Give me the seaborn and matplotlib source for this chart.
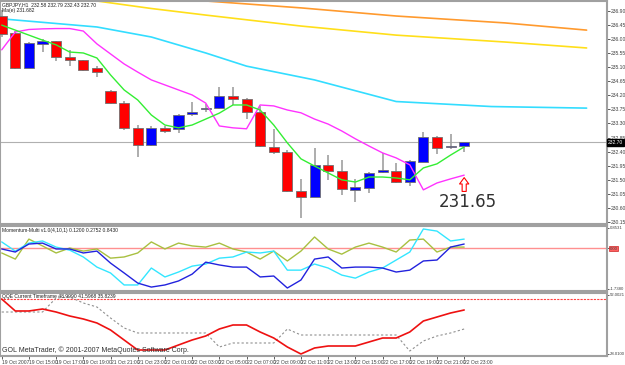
import numpy as np
import pandas as pd
import seaborn as sns
import matplotlib.pyplot as plt

# GBPJPY H1 candles, bar index 0..34
opens  = [236.73, 236.19, 235.07, 235.84, 235.93, 235.42, 235.33, 235.07, 234.34, 233.95,
          233.16, 232.61, 233.16, 233.13, 233.60, 233.76, 233.79, 234.18, 234.08, 233.67,
          232.55, 232.39, 231.15, 230.95, 231.98, 231.78, 231.18, 231.24, 231.75, 231.78,
          231.43, 232.07, 232.87, 232.55, 232.58]
highs  = [236.92, 236.25, 235.90, 235.99, 235.93, 235.65, 235.33, 235.14, 234.37, 234.02,
          233.25, 233.22, 233.22, 233.60, 233.98, 233.92, 234.47, 234.47, 234.11, 233.86,
          233.12, 232.45, 231.53, 232.52, 232.29, 232.14, 231.52, 231.75, 232.36, 232.04,
          232.13, 233.03, 232.90, 232.96, 232.68]
lows   = [236.06, 235.04, 235.07, 235.58, 235.29, 235.14, 234.98, 234.78, 233.92, 233.09,
          232.23, 232.58, 233.00, 233.00, 233.54, 233.67, 233.76, 233.89, 233.44, 232.55,
          232.33, 231.11, 230.28, 230.95, 231.50, 231.02, 230.79, 231.08, 231.72, 231.40,
          231.31, 232.07, 232.33, 232.49, 232.39]
closes = [236.16, 235.07, 235.87, 235.93, 235.42, 235.33, 235.01, 234.94, 233.95, 233.16,
          232.61, 233.16, 233.06, 233.57, 233.66, 233.79, 234.18, 234.08, 233.67, 232.58,
          232.39, 231.15, 230.95, 231.98, 231.78, 231.21, 231.27, 231.72, 231.82, 231.43,
          232.10, 232.87, 232.52, 232.58, 232.70]

ma_green = [236.44, 236.28, 236.12, 235.96, 235.81, 235.58, 235.55, 235.39, 234.85, 234.37,
            234.05, 233.57, 233.25, 233.16, 233.25, 233.44, 233.63, 233.89, 233.89, 233.73,
            233.25, 232.68, 232.17, 231.94, 231.72, 231.50, 231.43, 231.59, 231.59, 231.56,
            231.50, 231.88, 232.01, 232.29, 232.55]
ma_magenta = [235.65, 236.22, 236.30, 236.32, 236.33, 236.33, 236.25, 235.84, 235.52, 235.20,
              234.94, 234.69, 234.53, 234.37, 234.21, 233.95, 233.22, 233.16, 233.13, 233.89,
              233.86, 233.73, 233.64, 233.44, 233.28, 233.06, 232.81, 232.58, 232.36, 232.20,
              231.98, 231.18, 231.40, 231.53, 231.65]

# shifted long averages (read at a few bars)
orange_bar = [0, 13, 15, 22, 29, 37, 43]
orange_val = [237.62, 237.27, 237.21, 236.99, 236.73, 236.51, 236.28]
yellow_bar = [0, 7, 11, 15, 22, 29, 37, 43]
yellow_val = [237.69, 237.21, 236.97, 236.76, 236.41, 236.12, 235.90, 235.71]
cyan_bar = [0, 7, 11, 15, 18, 23, 29, 36, 43]
cyan_val = [236.64, 236.38, 236.06, 235.55, 235.13, 234.69, 234.00, 233.84, 233.79]

mom_olive = [-0.21, -0.47, 0.38, 0.09, -0.21, 0.0, -0.13, -0.04, -0.43, -0.38, -0.21, 0.26,
             -0.04, 0.21, 0.09, 0.04, 0.21, -0.04, -0.17, -0.47, -0.13, -0.55, -0.13, 0.47,
             -0.04, -0.26, 0.04, 0.21, 0.04, -0.17, 0.34, 0.38, -0.17, 0.04, 0.04]
mom_cyan = [0.26, -0.13, 0.21, 0.30, 0.04, -0.09, -0.38, -0.81, -1.06, -1.57, -1.57, -0.85,
            -1.23, -1.02, -0.77, -0.68, -0.43, -0.38, -0.17, -0.21, -0.13, -0.94, -0.94, -0.68,
            -0.85, -1.15, -1.28, -1.02, -0.85, -0.51, -0.17, 0.81, 0.72, 0.30, 0.38]
mom_blue = [-0.04, -0.17, 0.17, 0.21, -0.04, -0.04, -0.21, -0.13, -0.64, -1.06, -1.49, -1.66,
            -1.57, -1.40, -1.11, -0.60, -0.72, -0.81, -0.81, -1.23, -1.19, -1.70, -1.36, -0.47,
            -0.38, -0.85, -0.81, -0.81, -0.85, -1.02, -0.94, -0.55, -0.51, 0.04, 0.17]

qqe_red = [50.0, 45.29, 45.29, 46.07, 44.89, 43.32, 42.15, 40.58, 37.83, 33.90, 29.97, 29.97,
           29.97, 31.94, 33.90, 35.47, 38.22, 39.79, 39.79, 37.04, 34.68, 31.15, 28.40, 30.76,
           31.54, 31.54, 31.54, 33.11, 34.68, 34.68, 37.04, 41.36, 42.93, 44.50, 45.68]
qqe_gray = [44.89, 44.89, 44.89, 44.89, 50.39, 50.79, 48.43, 46.86, 42.54, 38.61, 36.65, 36.65,
            36.65, 36.65, 36.65, 36.65, 31.15, 32.72, 32.72, 32.72, 32.72, 38.22, 35.86, 35.86,
            35.86, 35.86, 35.86, 35.86, 35.86, 35.86, 29.58, 33.51, 35.47, 36.65, 38.22]

time_labels = ["19 Oct 2007", "19 Oct 15:00", "19 Oct 17:00", "19 Oct 19:00", "21 Oct 21:00",
               "21 Oct 23:00", "22 Oct 01:00", "22 Oct 03:00", "22 Oct 05:00", "22 Oct 07:00",
               "22 Oct 09:00", "22 Oct 11:00", "22 Oct 13:00", "22 Oct 15:00", "22 Oct 17:00",
               "22 Oct 19:00", "22 Oct 21:00", "22 Oct 23:00"]
price_ticks = [236.90, 236.45, 236.00, 235.55, 235.10, 234.65, 234.20, 233.75, 233.30,
               232.85, 232.40, 231.95, 231.50, 231.05, 230.60, 230.15]

sns.set_theme(style="white")
plt.rcParams['font.family'] = ['Liberation Sans', 'DejaVu Sans']

df = pd.DataFrame({"bar": np.arange(len(closes)), "open": opens, "high": highs,
                   "low": lows, "close": closes, "green": ma_green, "magenta": ma_magenta,
                   "olive": mom_olive, "mcyan": mom_cyan, "blue": mom_blue,
                   "qred": qqe_red, "qgray": qqe_gray})

fig = plt.figure(figsize=(6.25, 3.65), dpi=100)
fig.patch.set_facecolor("white")
ax = fig.add_axes([0.0, 0.3863, 0.9712, 0.611])
ax2 = fig.add_axes([0.0, 0.2027, 0.9712, 0.178], sharex=ax)
ax3 = fig.add_axes([0.0, 0.0247, 0.9712, 0.1726], sharex=ax)

frame = "#a0a0a0"
small = 3.6

# candles
up = df["close"] >= df["open"]
ax.vlines(df["bar"], df["low"], df["high"], color="#a0a0a0", lw=1.2, zorder=2)
body_lo = df[["open", "close"]].min(axis=1)
body_h = (df["close"] - df["open"]).abs().clip(lower=0.03)
ax.bar(df["bar"], body_h, bottom=body_lo, width=0.74,
       color=np.where(up, "#0000ff", "#ff0000"), edgecolor="#707070", lw=0.6, zorder=3)

sns.lineplot(x=orange_bar, y=orange_val, ax=ax, color="#ff9a2e", lw=1.2, zorder=1)
sns.lineplot(x=yellow_bar, y=yellow_val, ax=ax, color="#ffdf1a", lw=1.2, zorder=1)
sns.lineplot(x=cyan_bar, y=cyan_val, ax=ax, color="#33ddff", lw=1.2, zorder=1)
sns.lineplot(data=df, x="bar", y="magenta", ax=ax, color="#ff33ff", lw=1.0, zorder=4)
sns.lineplot(data=df, x="bar", y="green", ax=ax, color="#33ee33", lw=1.0, zorder=4)

last = closes[-1]
ax.axhline(last, color="#b0b0b0", lw=0.8, zorder=0)
tip = ma_magenta[-1] - 0.08
ax.annotate("", xy=(34, tip), xytext=(34, tip - 0.44),
            arrowprops=dict(arrowstyle="simple,head_width=0.95,head_length=0.65,tail_width=0.42",
                            mutation_scale=7, shrinkA=0, shrinkB=0,
                            fc="white", ec="#ff0000", lw=0.8))
ax.text(34.3, tip - 0.5, "231.65", color="#303030", fontsize=12, ha="center", va="top",
        family="DejaVu Sans")

ax.set_xlim(-0.125, 44.5)
ax.set_ylim(230.09, 237.21)
ax.yaxis.tick_right()
ax.set_yticks(price_ticks)
ax.set_yticklabels([f"{v:.2f}" for v in price_ticks])
ax.text(1.002, (last - 230.09) / (237.21 - 230.09), f"{last:.2f}", transform=ax.transAxes,
        fontsize=small, color="white", va="center", ha="left",
        bbox=dict(boxstyle="square,pad=0.2", fc="black", ec="black"))
ax.text(0.004, 0.995, "GBPJPY,H1  232.58 232.79 232.43 232.70\nMa(e) 231.682", transform=ax.transAxes,
        fontsize=small, va="top", ha="left", color="#202020", linespacing=1.2)

# momentum panel
ax2.axhline(0, color="#ff9090", lw=1.0)
sns.lineplot(data=df, x="bar", y="olive", ax=ax2, color="#a8c040", lw=1.0)
sns.lineplot(data=df, x="bar", y="mcyan", ax=ax2, color="#33e6ff", lw=1.0)
sns.lineplot(data=df, x="bar", y="blue", ax=ax2, color="#2222dd", lw=1.0)
ax2.set_ylim(-1.8275, 0.935)
ax2.yaxis.tick_right()
ax2.set_yticks([0.8531, 0.0, -1.738])
ax2.set_yticklabels(["0.8531", "0.00", "-1.7380"])
ax2.get_yticklabels()[1].set_bbox(dict(boxstyle="square,pad=0.15", fc="#ff6060", ec="#c00000", lw=0.4))
ax2.text(0.004, 0.97, "Momentum-Multi v1.0(4,10,1) 0.1200 0.2752 0.8430", transform=ax2.transAxes,
         fontsize=small, va="top", ha="left", color="#202020")

# QQE panel
ax3.axhline(50, color="#ff4040", lw=0.8, ls=(0, (2, 1)))
sns.lineplot(data=df, x="bar", y="qgray", ax=ax3, color="#909090", lw=0.8, linestyle=(0, (2, 2)))
sns.lineplot(data=df, x="bar", y="qred", ax=ax3, color="#ee1111", lw=1.2)
ax3.set_ylim(27.62, 52.36)
ax3.yaxis.tick_right()
ax3.set_yticks([51.6, 28.4])
ax3.set_yticklabels(["52.0021", "28.0100"])
ax3.text(0.004, 0.985, "QQE Current Timeframe 48.9990 41.5968 35.8239", transform=ax3.transAxes,
         fontsize=small, va="top", ha="left", color="#202020")
ax3.text(0.004, 0.03, "GOL MetaTrader, \u00a9 2001-2007 MetaQuotes Software Corp.",
         transform=ax3.transAxes, fontsize=5.0, va="bottom", ha="left", color="#303030")

ax3.set_xticks(np.arange(0, 35, 2))
ax3.set_xticklabels(time_labels, ha="left")

for a in (ax, ax2, ax3):
    a.set_xlabel("")
    a.set_ylabel("")
    a.set_facecolor("white")
    for s in a.spines.values():
        s.set_color(frame)
        s.set_linewidth(1.5)
    a.tick_params(axis="y", labelsize=small, length=2, width=0.6, pad=1, colors="#404040",
                  right=True)
    a.tick_params(axis="x", labelsize=small, length=2, width=0.6, pad=1, colors="#404040",
                  bottom=True)
for a in (ax2, ax3):
    a.tick_params(axis="y", labelsize=3.1, length=1.5, pad=0.5)
for a in (ax, ax2):
    plt.setp(a.get_xticklabels(), visible=False)
    a.tick_params(axis="x", length=0)

fig.savefig("out.png", dpi=100, facecolor="white")
